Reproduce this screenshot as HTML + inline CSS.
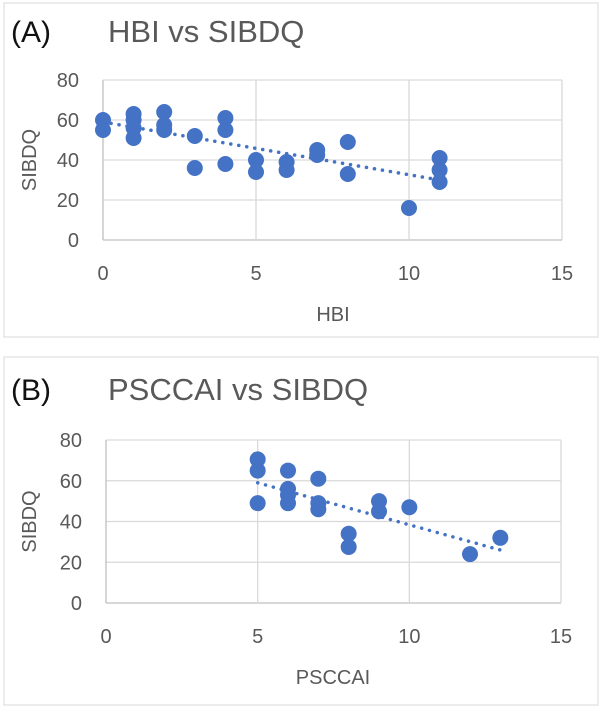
<!DOCTYPE html>
<html><head><meta charset="utf-8"><style>
body{margin:0;background:#fff;font-family:"Liberation Sans",sans-serif}
svg text{font-family:"Liberation Sans",sans-serif}
</style></head><body>
<svg width="612" height="713" viewBox="0 0 612 713" id="svg">
<rect x="4" y="3" width="594" height="334" fill="#fff" stroke="#d9d9d9"/>
<rect x="4" y="357" width="594" height="348" fill="#fff" stroke="#d9d9d9"/>
<g id="gA"></g>
<g id="gB"></g>
</svg>
<script>
const aX=[0,0,1,1,1,1,2,2,2,3,3,4,4,4,5,5,6,6,7,7,8,8,10,11,11,11];
const aY=[60,55,63,60,56,51,64,57.5,55,52,36,61,55,38,40,34,39,35,45,42.5,49,33,16,41,35,29];
const aTrend=[[0,59],[11,30]];
const bX=[5,5,5,6,6,6,6,7,7,7,8,8,9,9,10,12,13];
const bY=[70.5,65,49,65,56,53,49,61,49,46,34,27.5,50,45,47,24,32];
const bTrend=[[5,59],[13,26]];
const xTicks=[0,5,10,15];
const yTicks=[0,20,40,60,80];
const NS="http://www.w3.org/2000/svg";
function mk(p,t,a){const e=document.createElementNS(NS,t);for(const k in a)e.setAttribute(k,a[k]);p.appendChild(e);return e;}
function panel(g,cfg){
 const sx=v=>cfg.x0+(cfg.x1-cfg.x0)*v/15;
 const sy=v=>cfg.y0-(cfg.y0-cfg.y1)*v/80;
 let t=mk(g,'text',{x:11,y:cfg.ty,'font-size':30,fill:'#111'});t.textContent=cfg.tag;
 
 
 t=mk(g,'text',{x:cfg.tx,y:cfg.ty,'font-size':31,fill:'#595959'});t.textContent=cfg.title;
 
 
 yTicks.forEach(v=>{
  const l=mk(g,'line',{x1:sx(0),x2:sx(15),y1:sy(v),y2:sy(v),stroke:v==0?'#bfbfbf':'#d9d9d9','stroke-width':1.3});
  
  
  const tt=mk(g,'text',{x:cfg.x0-24,y:sy(v)+7,'font-size':20,fill:'#595959','text-anchor':'end'});tt.textContent=v;
  
  
 });
 xTicks.forEach(v=>{
  const l=mk(g,'line',{x1:sx(v),x2:sx(v),y1:sy(0),y2:sy(80),stroke:v==0?'#bfbfbf':'#d9d9d9','stroke-width':1.3});
  
  
  const tt=mk(g,'text',{x:sx(v),y:sy(0)+40,'font-size':20,fill:'#595959','text-anchor':'middle'});tt.textContent=v;
  
  
 });
 t=mk(g,'text',{x:333,y:sy(0)+81,'font-size':20,fill:'#595959','text-anchor':'middle'});t.textContent=cfg.xl;
 
 
 const cy=(sy(0)+sy(80))/2;
 t=mk(g,'text',{x:36,y:cy,'font-size':20,fill:'#595959','text-anchor':'middle',transform:`rotate(-90 36 ${cy})`});t.textContent='SIBDQ';
 
 
 cfg.xs.forEach((v,i)=>{
  const c=mk(g,'circle',{cx:sx(v),cy:sy(cfg.ys[i]),r:8,fill:'#4472c4'});
  
  
 });
 const tr=cfg.tr;
 const l=mk(g,'line',{x1:sx(tr[0][0]),y1:sy(tr[0][1]),x2:sx(tr[1][0]),y2:sy(tr[1][1]),stroke:'#4472c4','stroke-width':3.5,'stroke-dasharray':'0.1 8','stroke-linecap':'round'});
 
 
}
panel(document.getElementById('gA'),{x0:103,x1:562,y0:240,y1:80,ty:42,tx:108,tag:'(A)',title:'HBI vs SIBDQ',xl:'HBI',xs:aX,ys:aY,tr:aTrend});
panel(document.getElementById('gB'),{x0:106,x1:561,y0:603,y1:440,ty:400,tx:108,tag:'(B)',title:'PSCCAI vs SIBDQ',xl:'PSCCAI',xs:bX,ys:bY,tr:bTrend});
</script>
</body></html>
